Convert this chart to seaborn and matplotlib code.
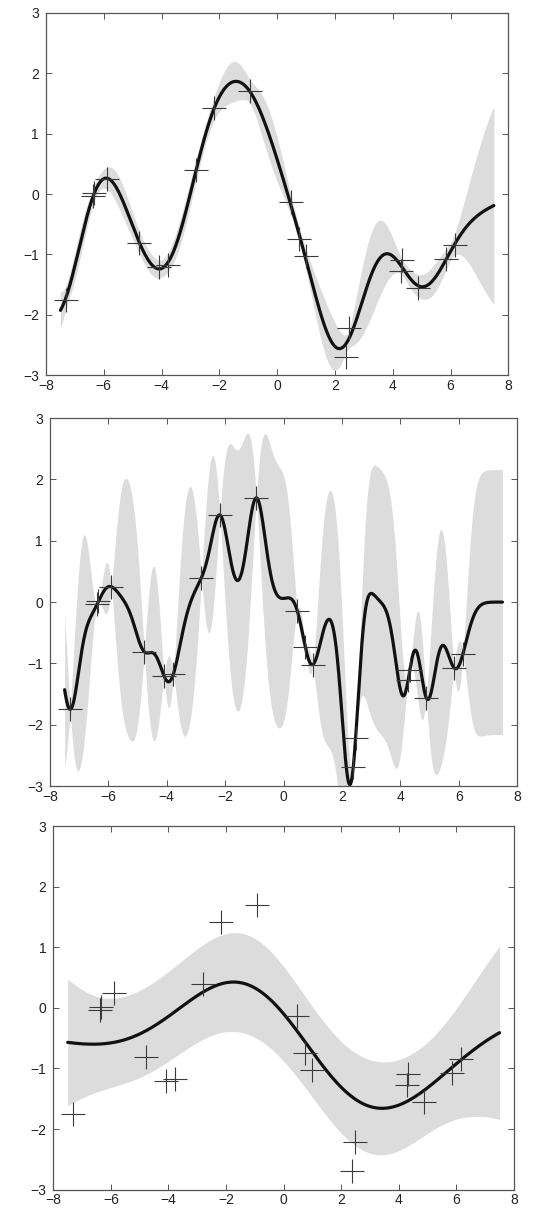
import numpy as np
import pandas as pd
import matplotlib
matplotlib.use("Agg")
import matplotlib.pyplot as plt
import seaborn as sns

# Observations (x, y) shared by all three panels
obs_x = [-7.31, -6.38, -6.34, -5.90, -4.77, -4.09, -3.77, -2.81, -2.18, -0.93,
         0.47, 0.75, 1.00, 2.47, 2.39, 4.33, 4.27, 4.89, 5.84, 6.15]
obs_y = [-1.75, -0.03, 0.01, 0.25, -0.81, -1.21, -1.17, 0.40, 1.42, 1.70,
         -0.14, -0.74, -1.02, -2.22, -2.69, -1.10, -1.27, -1.56, -1.07, -0.84]

# Hyperparameters (length-scale, signal std, noise std) for each panel
length_scales = [1.0, 0.3, 3.0]
signal_stds = [1.0, 1.08, 1.16]
noise_stds = [0.1, 0.00005, 0.89]

x_ticks = [-8, -6, -4, -2, 0, 2, 4, 6, 8]
y_ticks = [-3, -2, -1, 0, 1, 2, 3]
x_range = (-7.5, 7.5)

# Axes rectangles in figure fractions (left, bottom, width, height)
panel_rects = [
    (0.0858, 0.6893, 0.8625, 0.3002),
    (0.0933, 0.3493, 0.8713, 0.3046),
    (0.0994, 0.0152, 0.8595, 0.3010),
]


def se_kernel(a, b, ell, sf):
    d = a[:, None] - b[None, :]
    return sf ** 2 * np.exp(-0.5 * d ** 2 / ell ** 2)


def gp_predict(xs, ell, sf, sn):
    X = np.asarray(obs_x)
    Y = np.asarray(obs_y)
    K = se_kernel(X, X, ell, sf) + sn ** 2 * np.eye(len(X))
    Ks = se_kernel(xs, X, ell, sf)
    L = np.linalg.cholesky(K + 1e-12 * np.eye(len(X)))
    alpha = np.linalg.solve(L.T, np.linalg.solve(L, Y))
    mu = Ks @ alpha
    v = np.linalg.solve(L, Ks.T)
    var = sf ** 2 - np.sum(v ** 2, axis=0)
    return mu, np.sqrt(np.clip(var, 0, None))


sns.set_style("ticks")
plt.rcParams["font.family"] = ["Liberation Sans", "DejaVu Sans"]

fig = plt.figure(figsize=(5.36, 12.08), dpi=100)
xs = np.linspace(x_range[0], x_range[1], 801)
obs = pd.DataFrame({"x": obs_x, "y": obs_y})

for rect, ell, sf, sn in zip(panel_rects, length_scales, signal_stds, noise_stds):
    ax = fig.add_axes(rect)
    mu, sd = gp_predict(xs, ell, sf, sn)
    ax.fill_between(xs, mu - 2 * sd, mu + 2 * sd, color="#dcdcdc", linewidth=0, zorder=1)
    curve = pd.DataFrame({"x": xs, "f": mu})
    sns.lineplot(data=curve, x="x", y="f", ax=ax, color="#111111", linewidth=2.3,
                 sort=False, estimator=None, zorder=2)
    sns.scatterplot(data=obs, x="x", y="y", ax=ax, marker="+", s=300,
                    color="#3a3a3a", linewidth=0.8, zorder=3)
    ax.set_xlim(-8, 8)
    ax.set_ylim(-3, 3)
    ax.set_xticks(x_ticks)
    ax.set_yticks(y_ticks)
    ax.set_xticklabels([f"{t}".replace("-", "\u2212") for t in x_ticks])
    ax.set_yticklabels([f"{t}".replace("-", "\u2212") for t in y_ticks])
    ax.set_xlabel("")
    ax.set_ylabel("")
    ax.tick_params(direction="in", length=4, width=0.7, color="#555555",
                   labelsize=10, labelcolor="#222222", top=True, right=True)
    ax.tick_params(axis="x", pad=2.5)
    ax.tick_params(axis="y", pad=5)
    for sp in ax.spines.values():
        sp.set_visible(True)
        sp.set_color("#555555")
        sp.set_linewidth(0.9)

fig.savefig("out.png", dpi=100)
